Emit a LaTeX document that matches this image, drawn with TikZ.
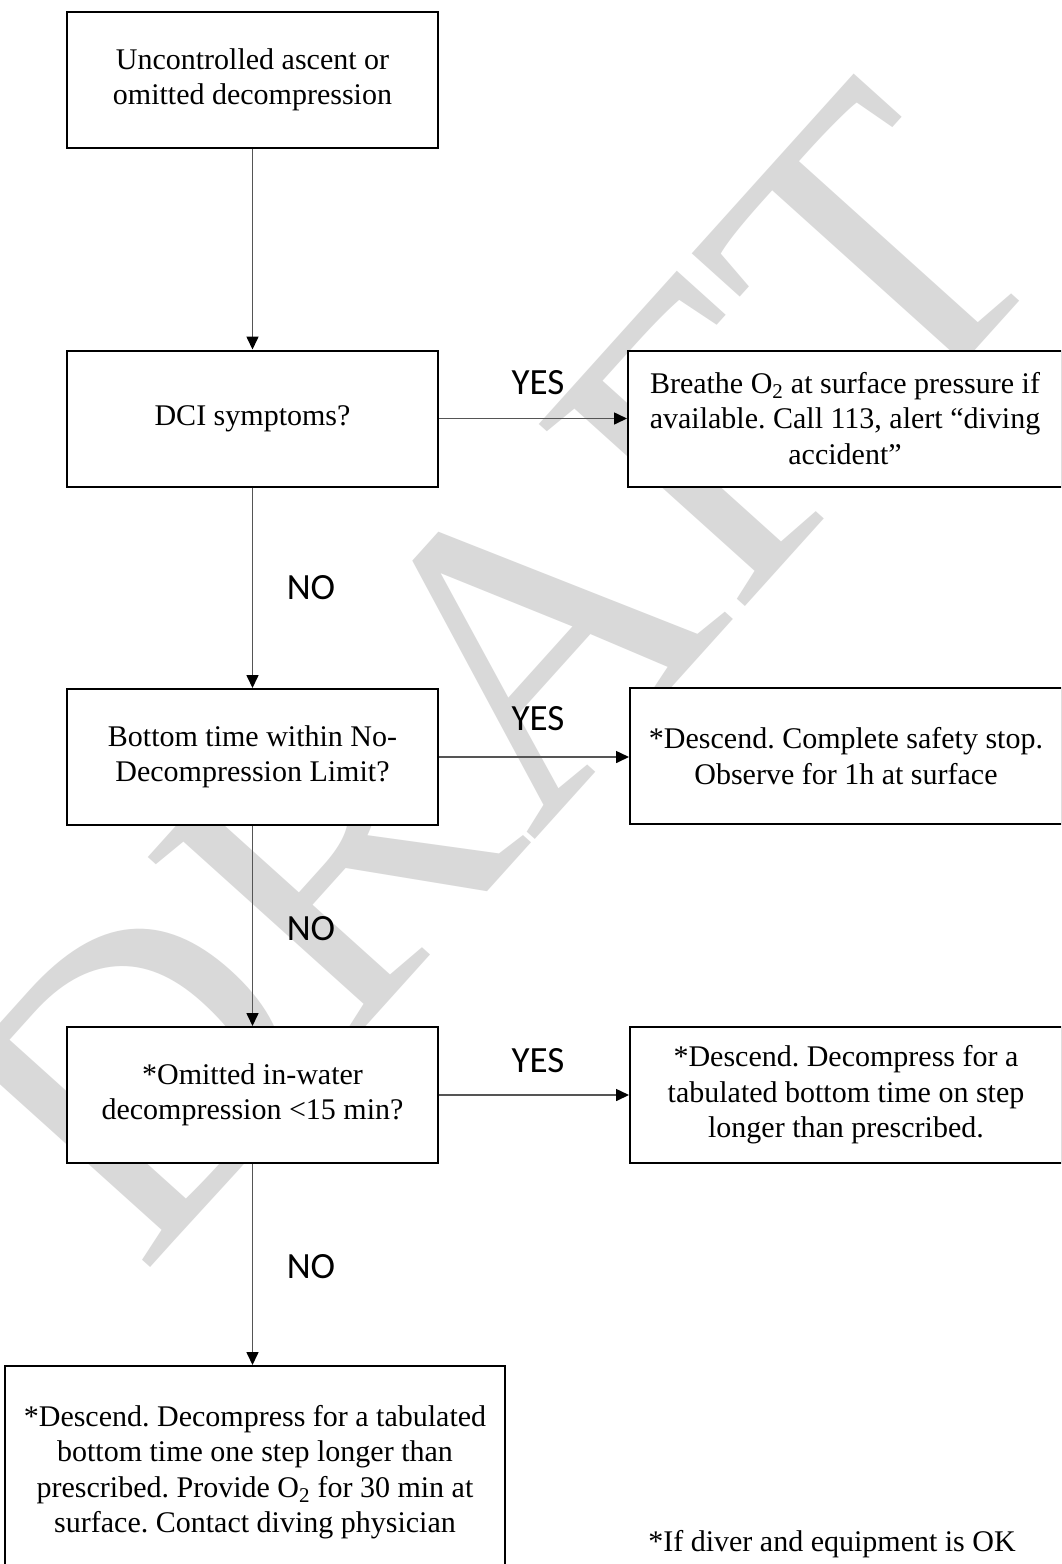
\documentclass[tikz,border=0pt]{standalone}
\usepackage{fontspec}
\setmainfont{Liberation Serif}
\newfontfamily\calibri{Carlito}
\usetikzlibrary{arrows.meta}
\definecolor{wmgray}{RGB}{217,217,217}
\definecolor{conngray}{RGB}{85,85,85}
\frenchspacing
\begin{document}
\begin{tikzpicture}[x=1pt,y=-1pt,
  box/.style={draw=black, line width=2pt, fill=white, minimum width=371pt,
    minimum height=136pt, inner sep=2pt, align=center,
    font=\fontsize{30}{35.5}\selectfont\frenchspacing},
  rbox/.style={box, minimum width=434pt},
  conn/.style={draw=conngray, line width=1.6pt,
    -{Triangle[length=13pt,width=12pt,color=black]}},
  lbl/.style={font=\calibri\fontsize{37}{40}\selectfont, inner sep=0pt},
  note/.style={font=\fontsize{30}{35}\selectfont, inner sep=0pt},
  wmark/.style={text=wmgray, inner sep=0pt, font=\fontsize{420}{420}\selectfont}]
\useasboundingbox (0,0) rectangle (1061,1564);
\clip (0,0) rectangle (1061,1564);
\fill[white] (0,0) rectangle (1061,1564);
% watermark
\node[wmark, rotate=48] (wm) at (500,672) {DRAFT};
% boxes
\node[box] (start) at (252.5,80) {Uncontrolled ascent or\\omitted decompression};
\node[box] (dci) at (252.5,418.5) {DCI symptoms?};
\node[rbox] (otwo) at (845,418.5) {Breathe O\textsubscript{2} at surface pressure if\\available. Call 113, alert “diving\\accident”};
\node[box] (ndl) at (252.5,757) {Bottom time within No-\\Decompression Limit?};
\node[rbox, minimum width=432pt] (safe) at (846,756) {*Descend. Complete safety stop.\\Observe for 1h at surface};
\node[box] (omit) at (252.5,1095) {*Omitted in-water\\decompression <15 min?};
\node[rbox, minimum width=432pt] (dectwo) at (846,1095) {*Descend. Decompress for a\\tabulated bottom time on step\\longer than prescribed.};
\node[box, minimum width=500pt, minimum height=212pt] (final) at (255,1472) {*Descend. Decompress for a tabulated\\bottom time one step longer than\\prescribed. Provide O\textsubscript{2} for 30 min at\\surface. Contact diving physician};
% connectors
\draw[conn] (start.south) -- (dci.north);
\draw[conn] (dci.south) -- (ndl.north);
\draw[conn] (ndl.south) -- (omit.north);
\draw[conn] (omit.south) -- (omit.south |- final.north);
\draw[conn] (dci.east) -- (dci.east -| otwo.west);
\draw[conn] (ndl.east) -- (ndl.east -| safe.west);
\draw[conn] (omit.east) -- (omit.east -| dectwo.west);
% labels
\node[lbl] (yes1) at (538,383) {YES};
\node[lbl] (yes2) at (538,719) {YES};
\node[lbl] (yes3) at (538,1061) {YES};
\node[lbl] (no1) at (311,588) {NO};
\node[lbl] (no2) at (311,929) {NO};
\node[lbl] (no3) at (311,1267) {NO};
\node[note] (fn) at (832,1544) {*If diver and equipment is OK};
\end{tikzpicture}
\end{document}
